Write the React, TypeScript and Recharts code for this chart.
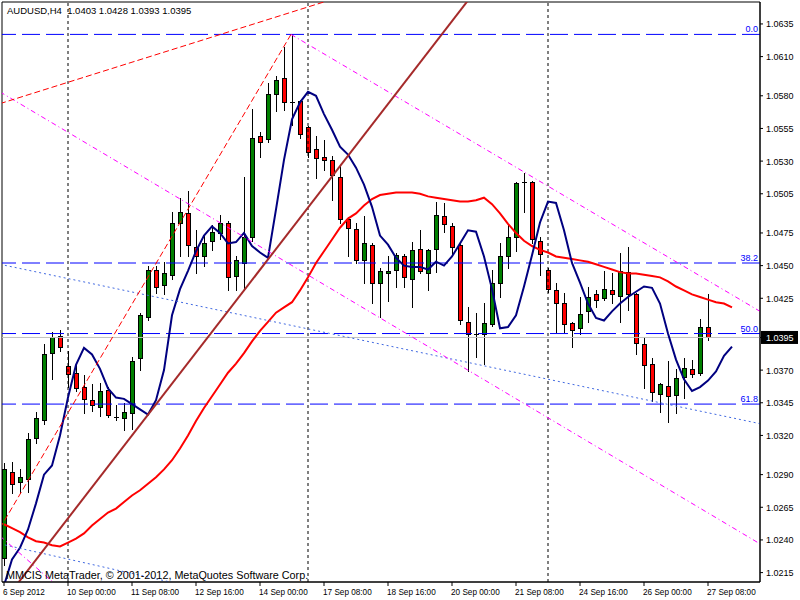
import React from "react";
import {
  ComposedChart,
  Bar,
  Line,
  XAxis,
  YAxis,
  ReferenceLine,
  ReferenceArea,
} from "recharts";

// AUDUSD H4 candles, 6 Sep 2012 16:00 .. 27 Sep 2012 08:00
const opens = [
  1.0226, 1.0292, 1.0284, 1.0287, 1.0318, 1.0332, 1.0383, 1.0396, 1.0373, 1.0368,
  1.0357, 1.0347, 1.0342, 1.0355, 1.0334, 1.0333, 1.0337, 1.0379, 1.0411, 1.0447,
  1.0435, 1.0443, 1.0483, 1.049, 1.0464, 1.0457, 1.0469, 1.0475, 1.0483, 1.0442,
  1.0452, 1.0472, 1.0549, 1.0547, 1.0581, 1.0594, 1.0575, 1.0576, 1.0556, 1.0539,
  1.0533, 1.0531, 1.0518, 1.0486, 1.0478, 1.0454, 1.0466, 1.0437, 1.0444, 1.0447,
  1.0457, 1.044, 1.0463, 1.0444, 1.0463, 1.0488, 1.048, 1.0466, 1.0407, 1.0398,
  1.0398, 1.0405, 1.0437, 1.0457, 1.0472, 1.0514, 1.0514, 1.0469, 1.0447, 1.0431,
  1.0421, 1.0406, 1.0402, 1.0415, 1.0428, 1.0425, 1.0431, 1.0427, 1.0445, 1.0428,
  1.039, 1.0375, 1.0352, 1.0358, 1.0351, 1.0365, 1.0371, 1.0368, 1.0403,
];
const highs = [
  1.0299, 1.03, 1.0294, 1.0322, 1.0338, 1.039, 1.0399, 1.0401, 1.0385, 1.0375,
  1.0366, 1.0359, 1.036, 1.0357, 1.0343, 1.0345, 1.038, 1.0414, 1.045, 1.045,
  1.0453, 1.0491, 1.0502, 1.0507, 1.0477, 1.0473, 1.0481, 1.0489, 1.0484, 1.0457,
  1.0518, 1.057, 1.0552, 1.059, 1.0595, 1.0617, 1.0627, 1.0577, 1.0557, 1.0549,
  1.0546, 1.0534, 1.0526, 1.0487, 1.0483, 1.0488, 1.0467, 1.0448, 1.0457, 1.046,
  1.0459, 1.0468, 1.0477, 1.0463, 1.0499, 1.0498, 1.0483, 1.0467, 1.0418, 1.0414,
  1.0421, 1.0447, 1.0467, 1.0482, 1.0514, 1.0521, 1.0515, 1.0472, 1.0448, 1.0437,
  1.0429, 1.0407, 1.0426, 1.0434, 1.0431, 1.0446, 1.0444, 1.046, 1.0464, 1.0429,
  1.0395, 1.0379, 1.036, 1.0377, 1.0371, 1.0379, 1.0378, 1.0409, 1.0428,
];
const lows = [
  1.0221, 1.0276, 1.0276, 1.0277, 1.0314, 1.0329, 1.0363, 1.0385, 1.0357, 1.0354,
  1.0337, 1.0339, 1.0335, 1.0334, 1.0332, 1.0324, 1.0325, 1.037, 1.0408, 1.0429,
  1.0428, 1.044, 1.0457, 1.0457, 1.0444, 1.045, 1.0462, 1.047, 1.0431, 1.0431,
  1.0431, 1.0469, 1.0533, 1.0545, 1.0568, 1.0569, 1.0558, 1.0548, 1.0533, 1.0517,
  1.0523, 1.05, 1.0483, 1.0457, 1.0452, 1.0437, 1.0421, 1.0411, 1.0423, 1.0434,
  1.0434, 1.0418, 1.0444, 1.0431, 1.0445, 1.0476, 1.0458, 1.0405, 1.0369, 1.038,
  1.0375, 1.0404, 1.0426, 1.0448, 1.0461, 1.0491, 1.0467, 1.0443, 1.043, 1.0399,
  1.0399, 1.0388, 1.0398, 1.0407, 1.0418, 1.0424, 1.0421, 1.0407, 1.0416, 1.0382,
  1.0356, 1.0346, 1.0338, 1.033, 1.0337, 1.0349, 1.0365, 1.0366, 1.0393,
];
const closes = [
  1.0294, 1.0283, 1.0288, 1.0317, 1.0333, 1.0382, 1.0395, 1.0388, 1.0367, 1.0356,
  1.0348, 1.0343, 1.0354, 1.0336, 1.0334, 1.0338, 1.0377, 1.0412, 1.0447, 1.0434,
  1.0444, 1.0483, 1.0491, 1.0466, 1.0457, 1.0467, 1.0476, 1.0483, 1.0441, 1.0454,
  1.0472, 1.0548, 1.0545, 1.0581, 1.0592, 1.0575, 1.0575, 1.0551, 1.0537, 1.0532,
  1.0531, 1.0519, 1.0486, 1.0479, 1.0454, 1.0467, 1.0437, 1.0446, 1.0446, 1.0458,
  1.0441, 1.0462, 1.0446, 1.0462, 1.0489, 1.0482, 1.0464, 1.0408, 1.0398, 1.0398,
  1.0406, 1.0437, 1.0457, 1.0472, 1.0513, 1.0514, 1.047, 1.0459, 1.0432, 1.0421,
  1.0405, 1.0401, 1.0413, 1.0426, 1.0424, 1.0432, 1.0428, 1.0446, 1.0428, 1.0391,
  1.0374, 1.0353, 1.0359, 1.035, 1.0364, 1.0372, 1.0367, 1.0403, 1.0395,
];

// indicator lines (shifted forward, so they run 3 bars past the last candle)
const fastMa = [
  1.0205, 1.0225, 1.0234, 1.0248, 1.0268, 1.029, 1.0297, 1.032, 1.0349, 1.0374,
  1.0387, 1.0382, 1.0371, 1.0356, 1.0349, 1.0348, 1.0344, 1.034, 1.0336, 1.0347,
  1.037, 1.0412, 1.0432, 1.0446, 1.0461, 1.0473, 1.048, 1.0475, 1.0467, 1.0468,
  1.0475, 1.0465, 1.046, 1.0456, 1.0493, 1.0531, 1.0562, 1.0575, 1.0583, 1.058,
  1.0566, 1.0554, 1.0541, 1.0535, 1.0525, 1.0512, 1.0495, 1.0473, 1.0466, 1.0456,
  1.045, 1.0449, 1.0449, 1.0447, 1.0453, 1.045, 1.0457, 1.0467, 1.0477, 1.0476,
  1.0457, 1.0432, 1.0402, 1.0403, 1.0412, 1.0434, 1.0458, 1.0483, 1.0499, 1.0498,
  1.0477, 1.0452, 1.0437, 1.0421, 1.041, 1.0408, 1.0415, 1.0421, 1.0426, 1.043,
  1.0434, 1.0433, 1.0421, 1.0398, 1.0378, 1.0363, 1.0354, 1.0357, 1.0362, 1.0369,
  1.0381, 1.0388,
];
const slowMa = [
  1.0252, 1.0249, 1.0246, 1.0242, 1.0239, 1.0238, 1.0236, 1.0235, 1.0238, 1.0241,
  1.0245, 1.0251, 1.0256, 1.0261, 1.0264, 1.0269, 1.0274, 1.0278, 1.0283, 1.0288,
  1.0294, 1.0301, 1.031, 1.032, 1.0331, 1.0341, 1.035, 1.0359, 1.0368, 1.0375,
  1.0383, 1.0392, 1.04, 1.0407, 1.0414, 1.0418, 1.0422, 1.0431, 1.0441, 1.0452,
  1.0461, 1.047, 1.0479, 1.0486, 1.049, 1.0496, 1.0501, 1.0504, 1.0505, 1.0506,
  1.0506, 1.0506, 1.0505, 1.0503, 1.0502, 1.0501, 1.05, 1.0499, 1.0499, 1.05,
  1.0502, 1.0497, 1.049, 1.0482, 1.0475, 1.0469, 1.0465, 1.0462, 1.046, 1.0457,
  1.0456, 1.0455, 1.0454, 1.0453, 1.0451, 1.0449, 1.0447, 1.0445, 1.0444, 1.0444,
  1.0443, 1.0442, 1.0441, 1.0438, 1.0434, 1.0431, 1.0428, 1.0426, 1.0424, 1.0422,
  1.0421, 1.0418,
];

// axis ticks
const xTicks = [0, 8, 16, 24, 32, 40, 48, 56, 64, 72, 80, 88];
const xLabels = [
  "6 Sep 2012", "10 Sep 00:00", "11 Sep 08:00", "12 Sep 16:00", "14 Sep 00:00",
  "17 Sep 08:00", "18 Sep 16:00", "20 Sep 00:00", "21 Sep 08:00", "24 Sep 16:00",
  "26 Sep 00:00", "27 Sep 08:00",
];
const yTicks = [
  1.0215, 1.024, 1.0265, 1.029, 1.032, 1.0345, 1.037, 1.0395, 1.0425, 1.045,
  1.0475, 1.0505, 1.053, 1.0555, 1.058, 1.061, 1.0635,
];
const weekStarts = [8, 38, 68];
const lastPrice = 1.0395;

// fibonacci retracement
const fibLevels = [1.0627, 1.0452, 1.0398, 1.0344];
const fibNames = ["0.0", "38.2", "50.0", "61.8"];

// drawn objects: [barIndex, price] pairs
const brownTrend = [[1.75, 1.0207], [58, 1.0653]];
const fibTrend = [[-0.5, 1.0249], [35.875, 1.0627]];
const redUpper = [[-0.5, 1.0574], [40.6, 1.0653]];
const pinkA = [[-0.5, 1.0583], [94.5, 1.0237]];
const pinkB = [[35.875, 1.0627], [94.5, 1.0415]];
const pinkC = [[-0.5, 1.0243], [7, 1.0203]];
const blueA = [[-0.5, 1.0451], [94.5, 1.0329]];
const blueB = [[-0.5, 1.0237], [25, 1.0202]];

const data = fastMa.map((f, i) => ({
  i,
  open: i < opens.length ? opens[i] : null,
  high: i < opens.length ? highs[i] : null,
  low: i < opens.length ? lows[i] : null,
  close: i < opens.length ? closes[i] : null,
  fast: f,
  slow: slowMa[i],
}));

const FONT = "'Liberation Sans', Arial, sans-serif";
const Y_MIN = 1.02078;
const Y_MAX = 1.06518;

const seg = (p: number[][]) => p.map(([x, y]) => ({ x, y }));

const Candle = (props: any) => {
  const { x, y, width, height, payload } = props;
  if (payload == null || payload.open == null) return null;
  const { open, high, low, close } = payload;
  const cx = Math.round(x + width / 2);
  const k = high === low ? 0 : height / (high - low);
  const py = (v: number) => y + (high - v) * k;
  const top = Math.round(py(Math.max(open, close)));
  const bot = Math.round(py(Math.min(open, close)));
  const doji = open === close;
  return (
    <g>
      <line
        x1={cx + 0.5}
        x2={cx + 0.5}
        y1={Math.round(y)}
        y2={Math.round(y + height) + 1}
        stroke="#000"
      />
      {doji ? (
        <line x1={cx - 2} x2={cx + 3} y1={top + 0.5} y2={top + 0.5} stroke="#000" />
      ) : (
        <rect
          x={cx - 1.5}
          y={top + 0.5}
          width={4}
          height={Math.max(bot - top, 1)}
          fill={close > open ? "#008000" : "#FF0000"}
          stroke="#000"
        />
      )}
    </g>
  );
};

const XTick = (props: any) => {
  const { x, payload } = props;
  const k = xTicks.indexOf(payload.value);
  return (
    <text x={x - 1} y={595} fontSize={8.2} fontFamily={FONT} fill="#000" textAnchor="start">
      {xLabels[k]}
    </text>
  );
};

const YTick = (props: any) => {
  const { x, y, payload } = props;
  const v = payload.value;
  const isLast = Math.abs(v - lastPrice) < 1e-7;
  return (
    <g>
      {isLast && <rect x={761} y={y - 6.5} width={37} height={13} fill="#000" />}
      <text
        x={x}
        y={y + 3.5}
        fontSize={9}
        fontFamily={FONT}
        fill={isLast ? "#fff" : "#000"}
        textAnchor="start"
      >
        {v.toFixed(4)}
      </text>
    </g>
  );
};

export default function App() {
  return (
    <div style={{ position: "relative", width: 800, height: 600, background: "#fff" }}>
      <style>{"body{margin:0}"}</style>
      <ComposedChart
        width={800}
        height={600}
        data={data}
        margin={{ top: 2, right: 0, bottom: 0, left: 2 }}
      >
        <XAxis
          dataKey="i"
          type="number"
          domain={[-0.25, 94.5]}
          allowDataOverflow
          ticks={xTicks}
          interval={0}
          height={18}
          tickSize={4}
          tickMargin={0}
          axisLine={{ stroke: "#000" }}
          tickLine={{ stroke: "#000" }}
          tick={<XTick />}
        />
        <YAxis
          orientation="right"
          type="number"
          domain={[Y_MIN, Y_MAX]}
          allowDataOverflow
          ticks={yTicks}
          interval={0}
          width={40}
          tickSize={3}
          tickMargin={3}
          axisLine={{ stroke: "#000" }}
          tickLine={{ stroke: "#000" }}
          tick={<YTick />}
        />

        <ReferenceArea
          x1={-0.25}
          x2={94.5}
          y1={Y_MIN}
          y2={Y_MAX}
          fill="none"
          stroke="#000"
          fillOpacity={0}
          ifOverflow="visible"
        />

        {weekStarts.map((w) => (
          <ReferenceLine key={w} x={w} stroke="#000" strokeDasharray="3 3" />
        ))}

        <ReferenceLine y={lastPrice} stroke="#C0C0C0" />

        {fibLevels.map((lv, k) => (
          <ReferenceLine
            key={fibNames[k]}
            y={lv}
            stroke="#0000FF"
            strokeDasharray="18 6"
            label={{
              value: fibNames[k],
              position: "insideBottomRight",
              offset: 2,
              fill: "#0000FF",
              fontSize: 9,
              fontFamily: FONT,
            }}
          />
        ))}

        <Bar
          dataKey={(d: any) => (d.open == null ? null : [d.low, d.high])}
          shape={Candle}
          barSize={5}
          isAnimationActive={false}
        />

        <Line
          dataKey="slow"
          type="linear"
          stroke="#FF0000"
          strokeWidth={2}
          dot={false}
          isAnimationActive={false}
        />
        <Line
          dataKey="fast"
          type="linear"
          stroke="#000080"
          strokeWidth={2}
          dot={false}
          isAnimationActive={false}
        />

        <ReferenceLine segment={seg(blueA)} stroke="#4169E1" strokeDasharray="2 3" ifOverflow="hidden" />
        <ReferenceLine segment={seg(blueB)} stroke="#4169E1" strokeDasharray="2 3" ifOverflow="hidden" />
        <ReferenceLine segment={seg(pinkA)} stroke="#FF00FF" strokeDasharray="5 3 1 3" ifOverflow="hidden" />
        <ReferenceLine segment={seg(pinkB)} stroke="#FF00FF" strokeDasharray="5 3 1 3" ifOverflow="hidden" />
        <ReferenceLine segment={seg(pinkC)} stroke="#FF00FF" strokeDasharray="5 3 1 3" ifOverflow="hidden" />
        <ReferenceLine segment={seg(fibTrend)} stroke="#FF0000" strokeDasharray="6 3" ifOverflow="hidden" />
        <ReferenceLine segment={seg(redUpper)} stroke="#FF0000" strokeDasharray="6 3" ifOverflow="hidden" />
        <ReferenceLine segment={seg(brownTrend)} stroke="#A52A2A" strokeWidth={2} ifOverflow="hidden" />
      </ComposedChart>

      <svg
        width={800}
        height={600}
        style={{ position: "absolute", left: 0, top: 0, pointerEvents: "none" }}
      >
        <text x={7} y={14} fontSize={9.5} fontFamily={FONT} fill="#000" style={{ whiteSpace: "pre" }}>
          {"AUDUSD,H4  1.0403 1.0428 1.0393 1.0395"}
        </text>
        <text x={6} y={579} fontSize={10.8} fontFamily={FONT} fill="#000">
          MMCIS MetaTrader, © 2001-2012, MetaQuotes Software Corp.
        </text>
      </svg>
    </div>
  );
}
